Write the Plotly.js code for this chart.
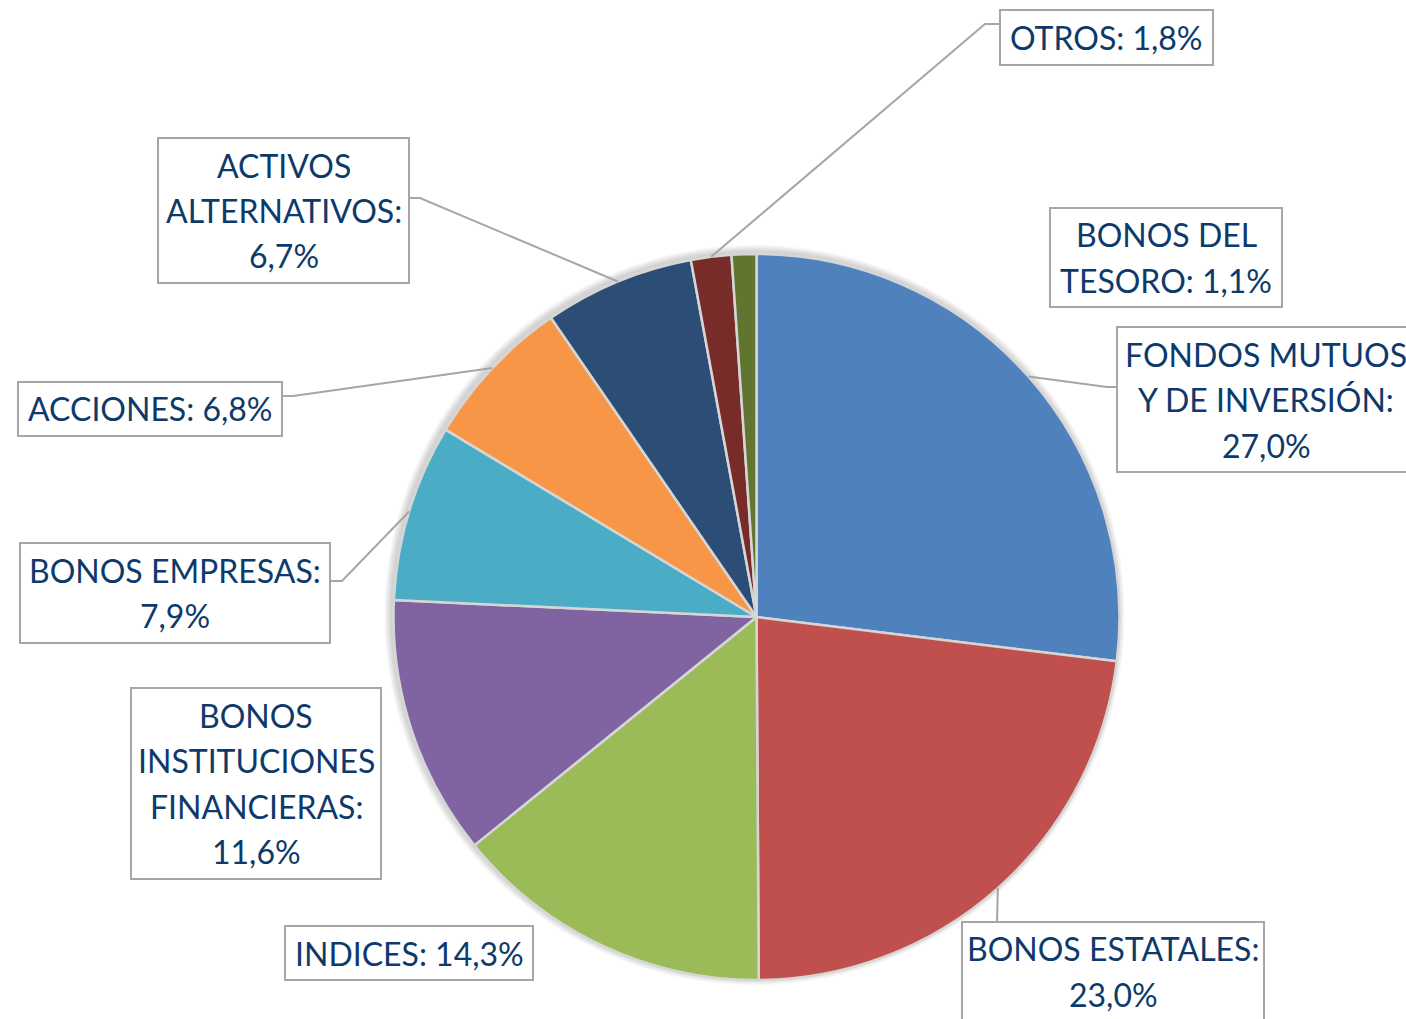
<!DOCTYPE html>
<html>
<head>
<meta charset="utf-8">
<script src="https://cdn.plot.ly/plotly-3.0.1.min.js"></script>
<style>html,body{margin:0;padding:0;background:#fff;}#chart{width:1406px;height:1019px;}</style>
</head>
<body>
<div id="chart"></div>
<script>
// ---- data ----
const categories = ["FONDOS MUTUOS Y DE INVERSIÓN", "BONOS ESTATALES", "INDICES", "BONOS INSTITUCIONES FINANCIERAS", "BONOS EMPRESAS", "ACCIONES", "ACTIVOS ALTERNATIVOS", "OTROS", "BONOS DEL TESORO"];
const values = [27.0, 23.0, 14.3, 11.6, 7.9, 6.8, 6.7, 1.8, 1.1];
const labelTexts = [
  "FONDOS MUTUOS<br>Y DE INVERSIÓN:<br>27,0%",
  "BONOS ESTATALES:<br>23,0%",
  "INDICES: 14,3%",
  "BONOS<br>INSTITUCIONES<br>FINANCIERAS:<br>11,6%",
  "BONOS EMPRESAS:<br>7,9%",
  "ACCIONES: 6,8%",
  "ACTIVOS<br>ALTERNATIVOS:<br>6,7%",
  "OTROS: 1,8%",
  "BONOS DEL<br>TESORO: 1,1%"
];
const colors = ["#4F81BD", "#C0504D", "#9BBB59", "#8064A2", "#4BACC6", "#F79646", "#2C4D75", "#772C2A", "#5F7530"];

// ---- layout (pixels) ----
const W = 1406, H = 1019;
const cx = 756.5, cy = 617, R = 363;
const lineGap = 45.5;
// label boxes: left, top, width, height
const boxes = [
  [1117, 327, 298, 145],
  [962, 922, 302, 99],
  [285, 926, 248, 54],
  [131, 688, 250, 191],
  [20, 543, 310, 100],
  [18, 382, 264, 54],
  [158, 138, 251, 145],
  [1000, 10, 213, 55],
  [1050, 208, 232, 99]
];
// leader routes: elbow point and end point (null = no leader)
const leaders = [
  [[1107, 387], [1117, 387]],
  [null, [997, 922]],
  null,
  null,
  [[342, 581], [330, 581]],
  [[293, 396], [282, 396]],
  [[420, 198], [409, 198]],
  [[985, 24], [1000, 24]],
  null
];

const px = x => x / W;
const py = y => 1 - y / H;

const total = values.reduce((a, b) => a + b, 0);
let cum = 0;
const midAngles = values.map(v => { const m = (cum + v / 2) / total * 2 * Math.PI; cum += v; return m; });

const shapes = [];
// soft shadow around pie
for (let i = 1; i <= 5; i++) {
  const r = R + i * 1.4;
  shapes.push({type: 'circle', xref: 'paper', yref: 'paper', layer: 'below',
    x0: px(cx - 2 - r), x1: px(cx - 2 + r), y0: py(cy - 2 + r), y1: py(cy - 2 - r),
    fillcolor: 'rgba(0,0,0,0.035)', line: {width: 0}});
}
leaders.forEach((ld, i) => {
  if (!ld) return;
  const a = midAngles[i];
  const sx = cx + R * Math.sin(a), sy = cy - R * Math.cos(a);
  let path = `M${px(sx)},${py(sy)}`;
  if (ld[0]) path += ` L${px(ld[0][0])},${py(ld[0][1])}`;
  path += ` L${px(ld[1][0])},${py(ld[1][1])}`;
  shapes.push({type: 'path', xref: 'paper', yref: 'paper', path: path, line: {color: '#A6A6A6', width: 2}});
});
boxes.forEach(b => {
  shapes.push({type: 'rect', xref: 'paper', yref: 'paper',
    x0: px(b[0]), x1: px(b[0] + b[2]), y0: py(b[1] + b[3]), y1: py(b[1]),
    fillcolor: '#FFFFFF', line: {color: '#A6A6A6', width: 2}});
});

const annotations = [];
labelTexts.forEach((t, i) => {
  const b = boxes[i];
  const lines = t.split('<br>');
  const mx = b[0] + b[2] / 2, my = b[1] + b[3] / 2;
  lines.forEach((ln, k) => {
    annotations.push({
      text: ln, xref: 'paper', yref: 'paper', x: px(mx), y: py(my + (k - (lines.length - 1) / 2) * lineGap),
      xanchor: 'center', yanchor: 'middle', showarrow: false,
      font: {family: 'Lato, sans-serif', size: 32, color: '#0E3A6B'}
    });
  });
});

const trace = {
  type: 'pie', labels: categories, values: values, sort: false, direction: 'clockwise', rotation: 0,
  marker: {colors: colors, line: {color: '#D6D6D6', width: 2.5}},
  textinfo: 'none', hoverinfo: 'label+percent', showlegend: false,
  domain: {x: [px(cx - R), px(cx + R)], y: [py(cy + R), py(cy - R)]}
};

Plotly.newPlot('chart', [trace], {
  width: W, height: H, margin: {l: 0, r: 0, t: 0, b: 0},
  paper_bgcolor: '#FFFFFF', plot_bgcolor: '#FFFFFF',
  shapes: shapes, annotations: annotations, showlegend: false
}, {displayModeBar: false});
</script>
</body>
</html>
